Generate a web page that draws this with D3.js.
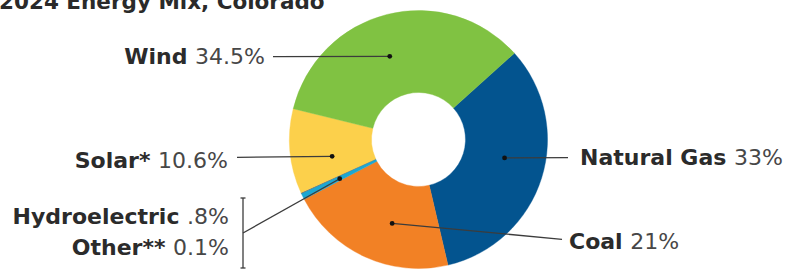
<!DOCTYPE html>
<html>
<head>
<meta charset="utf-8">
<script src="https://cdn.jsdelivr.net/npm/d3@7"></script>
<style>
  body { margin: 0; background: #fff; }
  svg { display: block; }
</style>
</head>
<body>
<div id="vis"></div>
<script>
// chart data
var categories  = [ "Natural Gas", "Coal", "Hydroelectric", "Other**", "Solar*", "Wind" ];
var values      = [ 33, 21, 0.8, 0.1, 10.6, 34.5 ];
var valueLabels = [ "33%", "21%", ".8%", "0.1%", "10.6%", "34.5%" ];
var colors      = [ "#03548f", "#f28125", "#1ca7d2", "#5b6a73", "#fcd04b", "#80c242" ];
var title       = "2024 Energy Mix, Colorado";

// annotation layout (where each label sits, where its leader ends)
var labelLayout = {
    "Wind":          { tx: 265, ty: 64,  anchor: "end",   lx: 273, ly: 56.7, frac: 0.46 },
    "Solar*":        { tx: 228, ty: 168, anchor: "end",   lx: 237, ly: 157.3, frac: 0.35 },
    "Natural Gas":   { tx: 580, ty: 165, anchor: "start", lx: 568, ly: 157.7, frac: 0.455 },
    "Coal":          { tx: 569, ty: 249, anchor: "start", lx: 562, ly: 239.3, frac: 0.405 },
    "Hydroelectric": { tx: 229, ty: 224, anchor: "end",   lx: 243, ly: 233, frac: 0.4 },
    "Other**":       { tx: 229, ty: 255, anchor: "end",   lx: null }
};

var W = 796, H = 270;
var cx = 418.5, cy = 139.5;
var outerR = 129, innerR = 47;
var startDeg = 48;

function OnReady()
{
    var svg = d3.select("#vis").append("svg")
        .attr("width", W)
        .attr("height", H);

    svg.append("text")
        .attr("x", -1)
        .attr("y", 8.5)
        .attr("font-family", "DejaVu Sans")
        .attr("font-weight", "bold")
        .attr("font-size", 21.5)
        .attr("fill", "#2a2a2a")
        .text(title);

    var table = categories.map(function(c, i) {
        return { name: c, value: values[i], label: valueLabels[i], color: colors[i] };
    });

    var start = startDeg * Math.PI / 180;
    var pie = d3.pie()
        .sort(null)
        .value(function(d) { return d.value; })
        .startAngle(start)
        .endAngle(start + 2 * Math.PI);

    var arc = d3.arc().innerRadius(innerR).outerRadius(outerR);
    var arcs = pie(table);

    var g = svg.append("g").attr("transform", "translate(" + cx + "," + cy + ")");
    g.selectAll("path.slice")
        .data(arcs)
        .enter().append("path")
        .attr("class", "slice")
        .attr("d", arc)
        .attr("fill", function(d) { return d.data.color; })
        .attr("stroke", function(d) { return d.data.color; })
        .attr("stroke-width", 0.4);

    var midR = (innerR + outerR) / 2;
    var lines = svg.append("g");
    var labels = svg.append("g")
        .attr("font-family", "DejaVu Sans")
        .attr("font-size", 22);

    arcs.forEach(function(a)
    {
        var lay = labelLayout[a.data.name];
        if ( !lay )
        {
            return;
        }
        if ( lay.lx !== null )
        {
            var ang = a.startAngle + lay.frac * (a.endAngle - a.startAngle);
            var dx = cx + midR * Math.sin(ang);
            var dy = cy - midR * Math.cos(ang);
            lines.append("line")
                .attr("x1", lay.lx).attr("y1", lay.ly)
                .attr("x2", dx).attr("y2", dy)
                .attr("stroke", "#3c3c3c")
                .attr("stroke-width", 1.3);
            lines.append("circle")
                .attr("cx", dx).attr("cy", dy).attr("r", 2.4)
                .attr("fill", "#111");
        }
        var t = labels.append("text")
            .attr("x", lay.tx)
            .attr("y", lay.ty)
            .attr("text-anchor", lay.anchor);
        t.append("tspan")
            .attr("font-weight", "bold")
            .attr("fill", "#2b2b2b")
            .text(a.data.name + " ");
        t.append("tspan")
            .attr("fill", "#474747")
            .text(a.data.label);
    });

    // bracket grouping Hydroelectric and Other
    var bx = labelLayout["Hydroelectric"].lx;
    var bTop = 198, bBot = 268;
    lines.append("line")
        .attr("x1", bx).attr("y1", bTop).attr("x2", bx).attr("y2", bBot)
        .attr("stroke", "#3c3c3c").attr("stroke-width", 1.3);
    [bTop, bBot].forEach(function(y) {
        lines.append("line")
            .attr("x1", bx - 2.5).attr("y1", y).attr("x2", bx + 2.5).attr("y2", y)
            .attr("stroke", "#3c3c3c").attr("stroke-width", 1.3);
    });
}

document.addEventListener("DOMContentLoaded", OnReady);
</script>
</body>
</html>
